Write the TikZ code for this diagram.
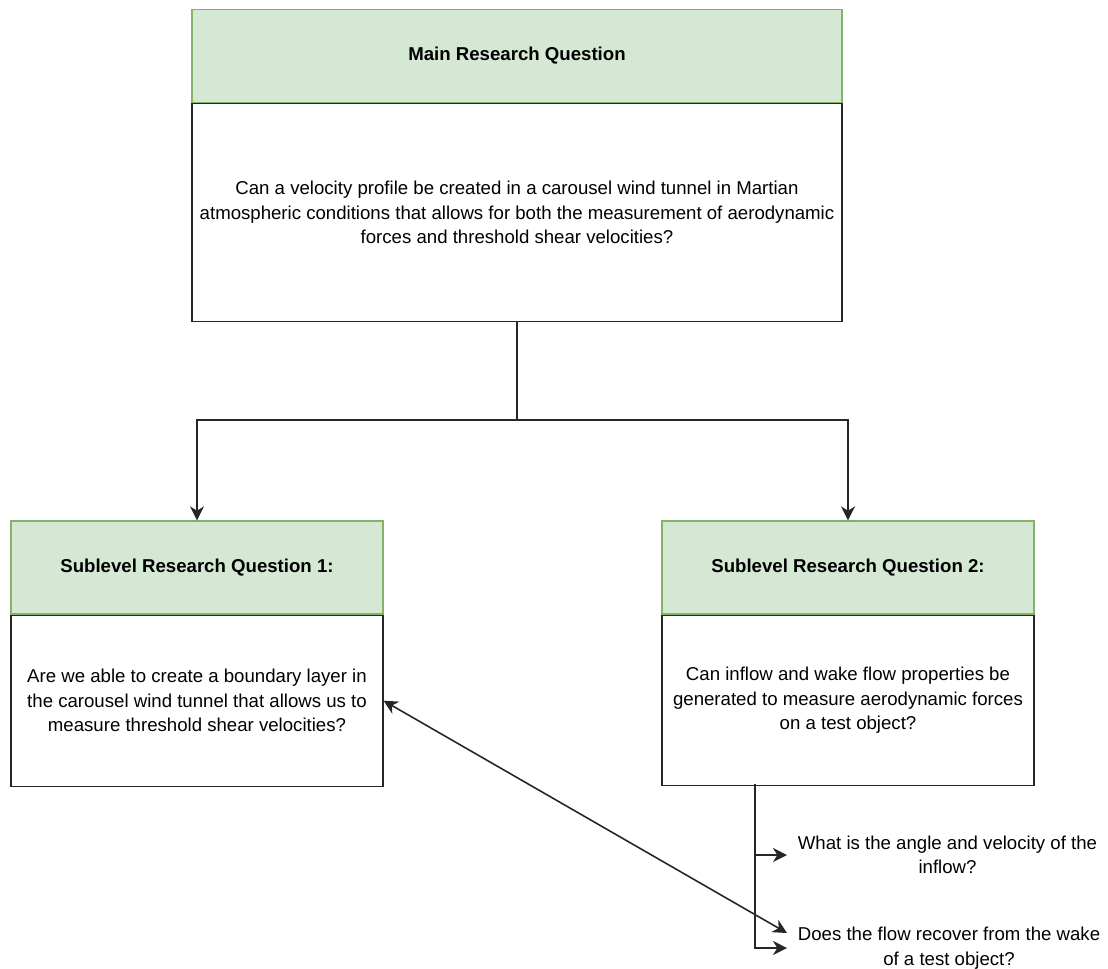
\documentclass[tikz,border=0pt]{standalone}
\usepackage{fontspec}
\setmainfont{Liberation Sans}
\usetikzlibrary{arrows.meta,positioning}
\definecolor{hdrfill}{HTML}{D5E8D4}
\definecolor{hdrline}{HTML}{82B366}
\tikzset{
 qhead/.style={draw=hdrline,fill=hdrfill,line width=0.7pt,minimum height=1.86cm,font=\bfseries},
 qbody/.style={draw=black!85,line width=0.7pt,align=center},
 link/.style={draw=black!85,line width=0.9pt},
 arr/.style={link,-{Stealth[length=8pt,width=8pt,inset=2.5pt]}},
 side/.style={align=center,inner sep=6pt}
}
\begin{document}
\fontsize{10.6}{13.9}\selectfont
\begin{tikzpicture}[x=0.02cm,y=-0.02cm]
 \useasboundingbox (0,0) rectangle (1108,968);
 \node[qhead,minimum width=13cm] (mainhead) at (517,56) {Main Research Question};
 \node[qbody,minimum width=13cm,minimum height=4.36cm,below=0pt of mainhead] (mainbody)
  {Can a velocity profile be created in a carousel wind tunnel in Martian\\atmospheric conditions that allows for both the measurement of aerodynamic\\forces and threshold shear velocities?};
 \node[qhead,minimum width=7.44cm] (subahead) at (197,567.5) {Sublevel Research Question 1:};
 \node[qbody,minimum width=7.44cm,minimum height=3.42cm,below=0pt of subahead] (subabody)
  {Are we able to create a boundary layer in\\the carousel wind tunnel that allows us to\\measure threshold shear velocities?};
 \node[qhead,minimum width=7.44cm] (subbhead) at (848,567.5) {Sublevel Research Question 2:};
 \node[qbody,minimum width=7.44cm,minimum height=3.4cm,below=0pt of subbhead] (subbbody)
  {Can inflow and wake flow properties be\\generated to measure aerodynamic forces\\on a test object?};
 \node[side,anchor=west] (inflow) at (787,855) {What is the angle and velocity of the\\inflow?};
 \node[side,anchor=west] (wake) at (787,948) {Does the flow recover from the wake\\of a test object?};
 \coordinate (split) at (517,420);
 \coordinate (stem) at (755,784);
 \draw[link] (mainbody.south) -- (split);
 \draw[arr] (split) -| (subahead.north);
 \draw[arr] (split) -| (subbhead.north);
 \draw[arr] (stem) |- (inflow.west);
 \draw[arr] (stem) |- (wake.west);
 \draw[link,{Stealth[length=8pt,width=8pt,inset=2.5pt]}-{Stealth[length=8pt,width=8pt,inset=2.5pt]}] (subabody.east) -- ([yshift=0.3cm]wake.west);
\end{tikzpicture}
\end{document}
